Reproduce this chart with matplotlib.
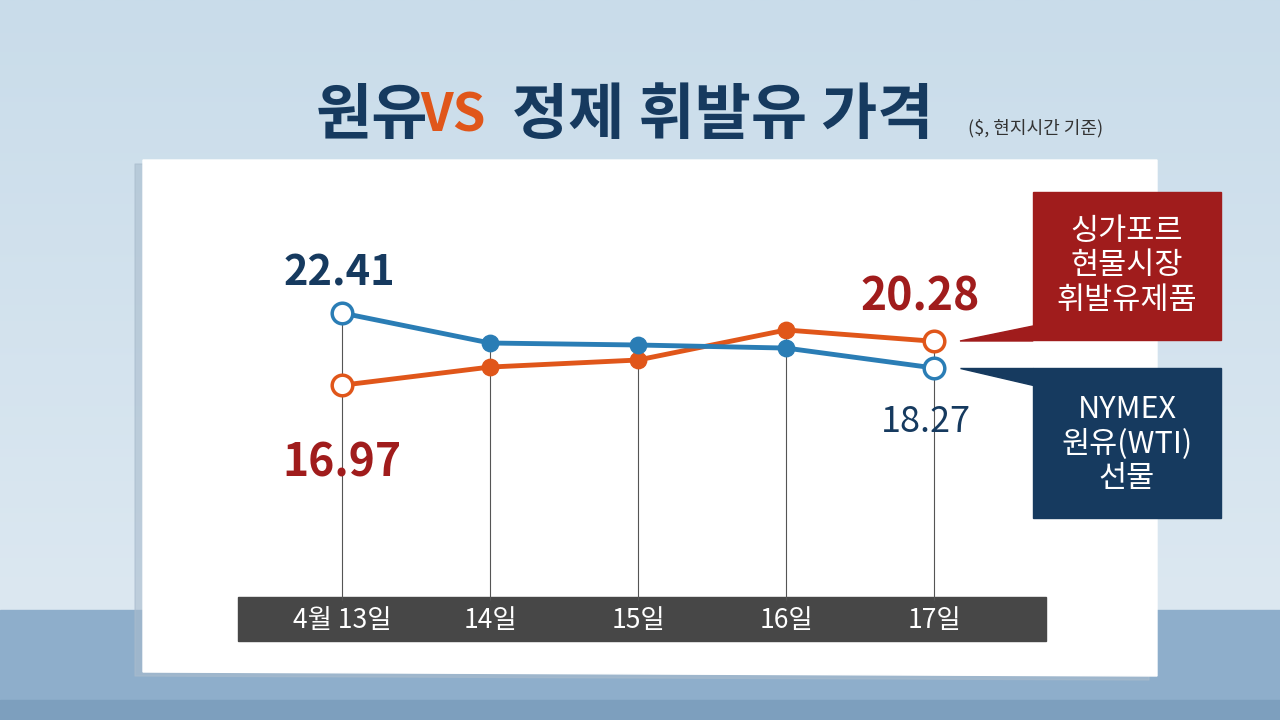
import matplotlib.pyplot as plt
import matplotlib.patches as mpatches
import numpy as np

plt.rcParams['font.family'] = ['Noto Sans CJK KR', 'DejaVu Sans']

DATES = ['4월 13일', '14일', '15일', '16일', '17일']
WTI = [22.41, 20.15, 20.00, 19.77, 18.27]
GASOIL = [16.97, 18.34, 18.87, 21.13, 20.28]

NAVY = '#163a5f'
BLUE = '#2a7db5'
RED = '#a01c1c'
ORANGE = '#e0561a'

W, H = 1280, 720
fig = plt.figure(figsize=(12.8, 7.2), dpi=100)

# background (pixel coordinates, y downwards)
bg = fig.add_axes([0, 0, 1, 1])
bg.set_xlim(0, W)
bg.set_ylim(H, 0)
bg.set_axis_off()
grad = np.linspace(0, 1, 256)[:, None]
bg.imshow(grad, extent=[0, W, 610, 0], cmap=plt.matplotlib.colors.LinearSegmentedColormap.from_list(
    'bgc', ['#c9dcea', '#dce8f1']), aspect='auto', zorder=0)
bg.add_patch(mpatches.Rectangle((0, 610), W, 110, color='#8eaecb', zorder=1))
bg.add_patch(mpatches.Rectangle((0, 700), W, 20, color='#7d9fbe', zorder=1))
bg.add_patch(mpatches.Polygon([(143, 160), (1157, 160), (1157, 676), (143, 672)],
                              closed=True, color='#a9bccd', zorder=1.5, alpha=0.6,
                              transform=bg.transData + plt.matplotlib.transforms.Affine2D().translate(-8, -4)))
bg.add_patch(mpatches.Polygon([(143, 160), (1157, 160), (1157, 676), (143, 672)],
                              closed=True, color='white', zorder=2))
bg.add_patch(mpatches.Rectangle((238, 597), 808, 44, color='#474747', zorder=3))

bg.text(316, 116, '원유', fontsize=44, fontweight='black', color=NAVY, va='center', ha='left')
bg.text(420, 116, 'VS', fontsize=38, fontweight='black', style='italic', color=ORANGE, va='center', ha='left')
bg.text(512, 116, '정제 휘발유 가격', fontsize=44, fontweight='black', color=NAVY, va='center', ha='left')
bg.text(968, 128, '($, 현지시간 기준)', fontsize=13, color='#333333', va='center', ha='left')

# right-side legend boxes
bg.add_patch(mpatches.Rectangle((1033, 192), 188, 148, color=RED, zorder=3))
bg.text(1127, 266, '싱가포르\n현물시장\n휘발유제품', fontsize=22, color='white', ha='center',
        va='center', linespacing=1.15, zorder=4)
bg.add_patch(mpatches.Polygon([(960, 341), (1033, 326), (1033, 341)], color=RED, zorder=3))
bg.add_patch(mpatches.Rectangle((1033, 368), 188, 150, color=NAVY, zorder=3))
bg.text(1127, 444, 'NYMEX\n원유(WTI)\n선물', fontsize=22, color='white', ha='center',
        va='center', linespacing=1.15, zorder=4)
bg.add_patch(mpatches.Polygon([(960, 368), (1033, 368), (1033, 385)], color=NAVY, zorder=3))

# data axes: x 342..934 px, y 160..600 px
ax = fig.add_axes([342 / W, 120 / H, (934 - 342) / W, 440 / H])
ax.patch.set_alpha(0)
ax.set_axis_off()
ax.set_xlim(0, 4)
ax.set_ylim(0.80, 33.93)
x = np.arange(len(DATES))
ax.vlines(x, 0.80, np.maximum(WTI, GASOIL), color='#555555', lw=0.8, zorder=1, clip_on=False)
ax.plot(x, GASOIL, color=ORANGE, lw=3.5, zorder=2, clip_on=False)
ax.plot(x, WTI, color=BLUE, lw=3.5, zorder=3, clip_on=False)
ax.scatter(x[1:4], np.array(GASOIL)[1:4], s=140, color=ORANGE, zorder=4, clip_on=False)
ax.scatter(x[1:4], np.array(WTI)[1:4], s=140, color=BLUE, zorder=5, clip_on=False)
for i in (0, 4):
    ax.scatter(x[i], GASOIL[i], s=220, facecolor='white', edgecolor=ORANGE, lw=2.5, zorder=6, clip_on=False)
    ax.scatter(x[i], WTI[i], s=220, facecolor='white', edgecolor=BLUE, lw=2.5, zorder=6, clip_on=False)

ax.annotate(f'{WTI[0]:.2f}', (x[0], WTI[0]), xytext=(-2, 20), textcoords='offset points',
            ha='center', fontsize=30, fontweight='bold', color=NAVY, clip_on=False)
ax.annotate(f'{GASOIL[0]:.2f}', (x[0], GASOIL[0]), xytext=(0, -66), textcoords='offset points',
            ha='center', fontsize=32, fontweight='bold', color=RED, clip_on=False)
ax.annotate(f'{GASOIL[4]:.2f}', (x[4], GASOIL[4]), xytext=(-10, 22), textcoords='offset points',
            ha='center', fontsize=32, fontweight='bold', color=RED, clip_on=False)
ax.annotate(f'{WTI[4]:.2f}', (x[4], WTI[4]), xytext=(-6, -46), textcoords='offset points',
            ha='center', fontsize=26, color=NAVY, clip_on=False)

# date labels in the grey bar
for i, d in enumerate(DATES):
    xp = 342 + i * (934 - 342) / 4
    bg.text(xp, 620, d, fontsize=19, color='white', ha='center', va='center', zorder=4)

fig.savefig('out.png', dpi=100)
